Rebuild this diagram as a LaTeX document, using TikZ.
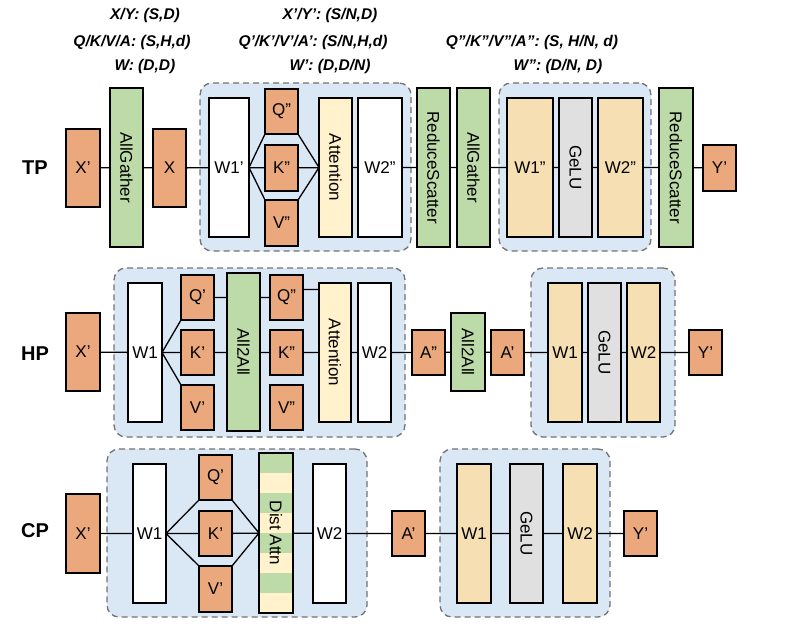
\documentclass[tikz,border=0pt]{standalone}
\usepackage{fontspec}
\setmainfont{Liberation Sans}
\usetikzlibrary{calc}
\definecolor{cor}{HTML}{EAA87C}
\definecolor{cgr}{HTML}{BDDBA8}
\definecolor{cye}{HTML}{FFF2CC}
\definecolor{cwh}{HTML}{F5DFB3}
\definecolor{cgy}{HTML}{E0E0E0}
\definecolor{cbl}{HTML}{DAE8F6}
\newcommand\bx[7]{\node[box,#6,minimum width={(#4-#2)*1pt},minimum height={(#5-#3)*1pt}] (#1) at ({(#2+#4)/2},{(#3+#5)/2}) {#7};}
\newcommand\grp[5]{\node[grp,minimum width={(#4-#2)*1pt},minimum height={(#5-#3)*1pt}] (#1) at ({(#2+#4)/2},{(#3+#5)/2}) {};}
\newcommand\rt[1]{\rotatebox{-90}{#1}}
\begin{document}
\begin{tikzpicture}[x=1pt,y=-1pt,
  box/.style={draw,line width=1.3pt,inner sep=0pt,outer sep=0pt,font=\fontsize{17}{19}\selectfont},
  grp/.style={draw=black!55,dashed,dash pattern=on 6pt off 4pt,line width=1.3pt,fill=cbl,rounded corners=12pt,inner sep=0pt},
  o/.style={fill=cor}, g/.style={fill=cgr}, ye/.style={fill=cye}, wh/.style={fill=cwh}, gy/.style={fill=cgy}, w/.style={fill=white},
  ln/.style={line width=1.3pt},
  hd/.style={font=\fontsize{15.5}{17}\selectfont\bfseries\itshape},
  rl/.style={font=\fontsize{20}{22}\selectfont\bfseries}]
\fill[white] (0,0) rectangle (810,642);
\useasboundingbox (0,0) rectangle (810,642);
% headers
\node[hd] (h1) at (145,15) {X/Y: (S,D)};
\node[hd] (h2) at (132,42) {Q/K/V/A: (S,H,d)};
\node[hd] (h3) at (145,66) {W: (D,D)};
\node[hd] (h4) at (330,15) {X'/Y': (S/N,D)};
\node[hd] (h5) at (313,42) {Q'/K'/V'/A': (S/N,H,d)};
\node[hd] (h6) at (330,66) {W': (D,D/N)};
\node[hd] (h7) at (532,42) {Q''/K''/V''/A'': (S, H/N, d)};
\node[hd] (h8) at (558,66) {W'': (D/N, D)};
% ===== TP =====
\node[rl] (tp) at (35,168) {TP};
\grp{tg1}{200}{83}{411}{251}
\grp{tg2}{499}{83}{651}{251}
\bx{tx0}{66}{129}{100}{207}{o}{X'}
\bx{tag}{110}{88}{143}{247}{g}{\rt{AllGather}}
\bx{tx}{153}{129}{186}{207}{o}{X}
\bx{tw1}{209}{98}{249}{237}{w}{W1'}
\bx{tq}{265}{89}{298}{134}{o}{Q''}
\bx{tk}{265}{145}{298}{191}{o}{K''}
\bx{tv}{265}{200}{298}{246}{o}{V''}
\bx{tat}{319}{98}{352}{237}{ye}{\rt{Attention}}
\bx{tw2}{358}{98}{402}{237}{w}{W2''}
\bx{trs}{417}{88}{450}{247}{g}{\rt{ReduceScatter}}
\bx{tag2}{457}{88}{490}{247}{g}{\rt{AllGather}}
\bx{tm1}{507}{98}{553}{237}{wh}{W1''}
\bx{tge}{559}{98}{592}{237}{gy}{\rt{GeLU}}
\bx{tm2}{598}{98}{643}{237}{wh}{W2''}
\bx{trs2}{659}{88}{693}{247}{g}{\rt{ReduceScatter}}
\bx{ty}{703}{145}{736}{191}{o}{Y'}
\draw[ln] (tx0)--(tag) (tag)--(tx) (tx)--(tw1) (tw1.east)--(tq.south west) (tw1)--(tk) (tw1.east)--(tv.north west)
 (tq.south east)--(tat.west) (tk)--(tat) (tv.north east)--(tat.west) (tat)--(tw2) (tw2)--(trs) (trs)--(tag2)
 (tag2)--(tm1) (tm1)--(tge) (tge)--(tm2) (tm2)--(trs2) (trs2)--(ty);
% ===== HP =====
\node[rl] (hp) at (35,354) {HP};
\grp{hg1}{114}{268}{405}{437}
\grp{hg2}{531}{268}{675}{437}
\bx{hx0}{66}{313}{100}{391}{o}{X'}
\bx{hw1}{128}{283}{162}{422}{w}{W1}
\bx{hq}{181}{275}{214}{320}{o}{Q'}
\bx{hk}{181}{330}{214}{375}{o}{K'}
\bx{hv}{181}{385}{214}{430}{o}{V'}
\bx{ha2a}{227}{273}{260}{431}{g}{\rt{All2All}}
\bx{hq2}{270}{275}{303}{320}{o}{Q''}
\bx{hk2}{270}{330}{303}{375}{o}{K''}
\bx{hv2}{270}{385}{303}{430}{o}{V''}
\bx{hat}{319}{283}{351}{422}{ye}{\rt{Attention}}
\bx{hw2}{358}{283}{391}{422}{w}{W2}
\bx{ha2}{412}{330}{445}{375}{o}{A''}
\bx{ha2b}{451}{313}{485}{391}{g}{\rt{All2All}}
\bx{ha1}{491}{330}{524}{375}{o}{A'}
\bx{hm1}{548}{283}{582}{422}{wh}{W1}
\bx{hge}{588}{283}{621}{422}{gy}{\rt{GeLU}}
\bx{hm2}{627}{283}{660}{422}{wh}{W2}
\bx{hy}{689}{330}{722}{375}{o}{Y'}
\draw[ln] (hx0)--(hw1) (hw1.east)--(hq.south west) (hw1)--(hk) (hw1.east)--(hv.north west)
 (hq.east)--(hq.east-|ha2a.west) (ha2a.east|-hq2.west)--(hq2.west)
 (hk)--(hk-|ha2a.west) (ha2a.east|-hk2.west)--(hk2)
 ([yshift=8pt]hq2.east)--([yshift=8pt]hq2.east-|hat.west) (hk2)--(hk2-|hat.west)
 (hat)--(hw2) (hw2)--(ha2) (ha2)--(ha2b) (ha2b)--(ha1) (ha1)--(hm1) (hm1)--(hge) (hge)--(hm2) (hm2)--(hy);
% ===== CP =====
\node[rl] (cp) at (35,531) {CP};
\grp{cg1}{107}{449}{367}{617}
\grp{cg2}{440}{449}{610}{617}
\bx{cx0}{66}{494}{100}{573}{o}{X'}
\bx{cw1}{133}{464}{166}{603}{w}{W1}
\bx{cq}{199}{455}{232}{500}{o}{Q'}
\bx{ck}{199}{511}{232}{556}{o}{K'}
\bx{cv}{199}{566}{232}{612}{o}{V'}
\foreach \i in {0,...,7}{
  \pgfmathsetmacro\ya{453+20*\i}
  \ifodd\i \fill[cye] (259,\ya) rectangle (293,\ya+20); \else \fill[cgr] (259,\ya) rectangle (293,\ya+20); \fi
}
\bx{cda}{259}{453}{293}{613}{}{\rt{Dist Attn}}
\bx{cw2}{313}{464}{346}{603}{w}{W2}
\bx{ca}{392}{511}{425}{556}{o}{A'}
\bx{cm1}{457}{464}{491}{603}{wh}{W1}
\bx{cge}{510}{464}{543}{603}{gy}{\rt{GeLU}}
\bx{cm2}{563}{464}{597}{603}{wh}{W2}
\bx{cy}{624}{511}{657}{556}{o}{Y'}
\draw[ln] (cx0)--(cw1) (cw1.east)--(cq.south west) (cw1)--(ck) (cw1.east)--(cv.north west)
 (cq.south east)--(cda.west) (ck)--(cda) (cv.north east)--(cda.west)
 (cda)--(cw2) (cw2)--(ca) (ca)--(cm1) (cm1)--(cge) (cge)--(cm2) (cm2)--(cy);
\end{tikzpicture}
\end{document}
